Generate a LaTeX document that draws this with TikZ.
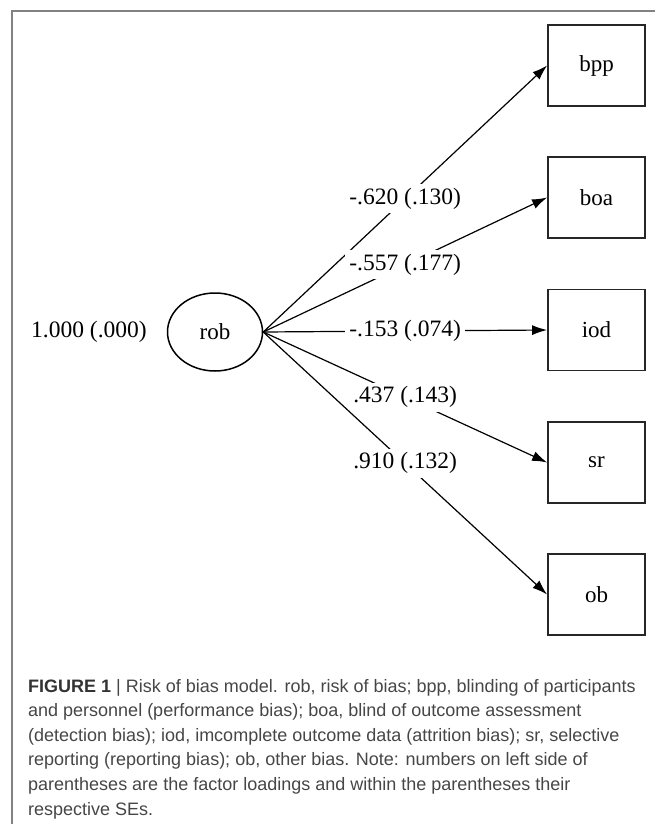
\documentclass[tikz,border=0pt]{standalone}
\usepackage{fontspec}
\setmainfont{Liberation Serif}
\newfontfamily\capfont{Liberation Sans}
\usetikzlibrary{arrows.meta,shapes.geometric}

\definecolor{framegray}{RGB}{130,130,130}
\definecolor{capgray}{RGB}{70,70,70}

\tikzset{
  obs/.style={draw=black!85,line width=1.8pt,minimum width=97pt,minimum height=81pt,
    font=\fontsize{23}{25}\selectfont},
  latent/.style={ellipse,draw,line width=1.5pt,minimum width=95pt,minimum height=78pt,
    inner sep=0pt,font=\fontsize{23}{25}\selectfont},
  load/.style={line width=1.2pt,-{Latex[length=15pt,width=10pt]}},
  est/.style={fill=white,inner sep=4pt,font=\fontsize{23.5}{25}\selectfont}
}

\begin{document}
\begin{tikzpicture}[x=1pt,y=-1pt]
    \useasboundingbox (0,0) rectangle (655,824);
    % open frame
    \draw[framegray,line width=1.3pt] (655,11) -- (12,11) -- (12,824);

    \node[latent] (rob) at (215,332) {rob};
    \node[est,fill=none] (var) at (89,332) {1.000 (.000)};

    \node[obs] (bpp) at (596.5,65.5) {bpp};
    \node[obs] (boa) at (596.5,197.5) {boa};
    \node[obs] (iod) at (596.5,330) {iod};
    \node[obs] (sr)  at (596.5,462.5) {sr};
    \node[obs] (ob)  at (596.5,594.5) {ob};

    \path
      (rob.east) edge[load] node[est] {-.620 (.130)} (bpp.west)
      (rob.east) edge[load] node[est] {-.557 (.177)} (boa.west)
      (rob.east) edge[load] node[est] {-.153 (.074)} (iod.west)
      (rob.east) edge[load] node[est] {.437 (.143)} (sr.west)
      (rob.east) edge[load] node[est] {.910 (.132)} (ob.west);

    \node[anchor=base west,inner sep=0pt,text=capgray] (cap) at (28,692)
      {\parbox[t]{627pt}{\capfont\fontsize{18}{24.6}\selectfont\raggedright\leavevmode
       \textcolor{black!80}{\bfseries FIGURE 1} | Risk of bias model. rob, risk of bias; bpp, blinding of participants\\
       and personnel (performance bias); boa, blind of outcome assessment\\
       (detection bias); iod, imcomplete outcome data (attrition bias); sr, selective\\
       reporting (reporting bias); ob, other bias. Note: numbers on left side of\\
       parentheses are the factor loadings and within the parentheses their\\
       respective SEs.}};
\end{tikzpicture}
\end{document}
